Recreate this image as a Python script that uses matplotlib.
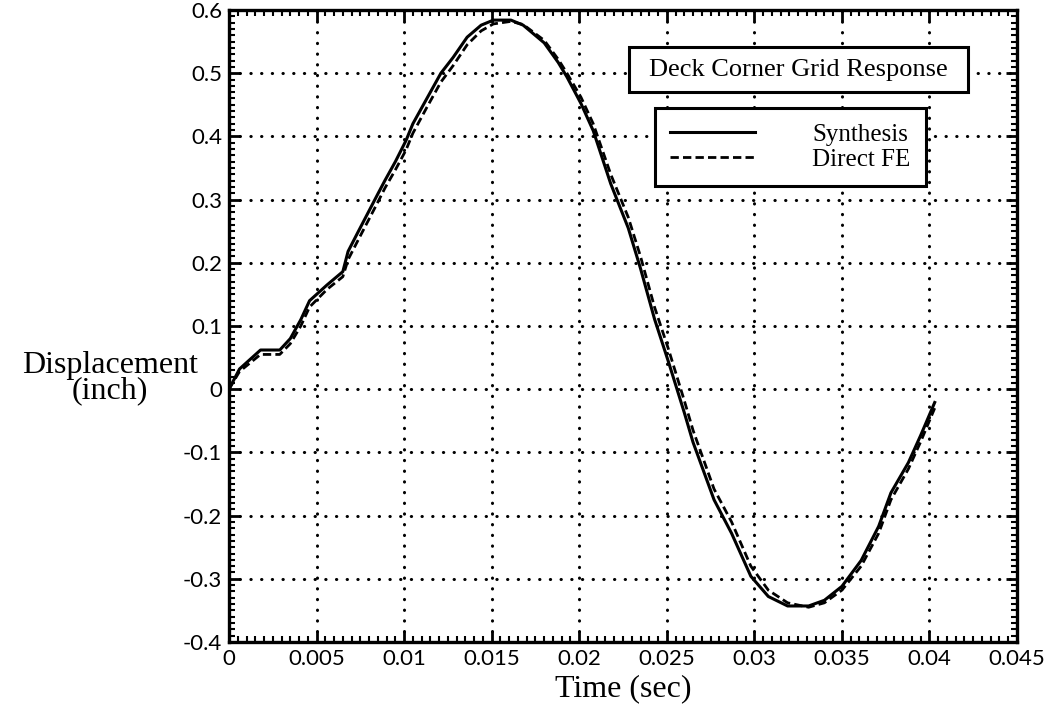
import matplotlib
matplotlib.use("Agg")
import matplotlib.pyplot as plt
from matplotlib.patches import Rectangle
from matplotlib.ticker import FixedLocator, FixedFormatter, MultipleLocator

# ---- data ----
time_s = [0.0, 0.0006, 0.0018, 0.0029, 0.0035, 0.0041, 0.0046, 0.0056, 0.0065, 0.0068,
          0.0073, 0.0079, 0.0085, 0.0089, 0.0095, 0.0101, 0.0105, 0.0113, 0.0121, 0.0128,
          0.0136, 0.0144, 0.0151, 0.0161, 0.0168, 0.0180, 0.0188, 0.0193, 0.0201, 0.0208,
          0.0218, 0.0228, 0.0235, 0.0243, 0.0251, 0.0260, 0.0265, 0.0277, 0.0287, 0.0298,
          0.0308, 0.0319, 0.0331, 0.0340, 0.0350, 0.0361, 0.0371, 0.0378, 0.0388, 0.0395,
          0.0403]
synthesis = [0.0, 0.032, 0.062, 0.062, 0.080, 0.110, 0.140, 0.165, 0.186, 0.218,
             0.245, 0.277, 0.309, 0.330, 0.360, 0.393, 0.420, 0.460, 0.500, 0.525,
             0.557, 0.576, 0.584, 0.584, 0.576, 0.548, 0.517, 0.494, 0.452, 0.409,
             0.325, 0.255, 0.191, 0.111, 0.043, -0.037, -0.084, -0.175, -0.228, -0.296,
             -0.328, -0.343, -0.343, -0.334, -0.312, -0.271, -0.217, -0.164, -0.116, -0.073,
             -0.021]
direct_fe = [0.0, 0.028, 0.055, 0.055, 0.072, 0.100, 0.130, 0.158, 0.178, 0.205,
             0.232, 0.264, 0.296, 0.318, 0.347, 0.378, 0.405, 0.446, 0.486, 0.512,
             0.545, 0.567, 0.578, 0.582, 0.577, 0.552, 0.522, 0.500, 0.462, 0.420,
             0.340, 0.272, 0.210, 0.130, 0.063, -0.018, -0.065, -0.158, -0.210, -0.280,
             -0.318, -0.338, -0.345, -0.338, -0.318, -0.280, -0.228, -0.175, -0.126, -0.083,
             -0.030]

x_ticks = [0, 0.005, 0.01, 0.015, 0.02, 0.025, 0.03, 0.035, 0.04, 0.045]
x_tick_labels = ["0", "0.005", "0.01", "0.015", "0.02", "0.025", "0.03", "0.035", "0.04", "0.045"]
y_ticks = [-0.4, -0.3, -0.2, -0.1, 0, 0.1, 0.2, 0.3, 0.4, 0.5, 0.6]
y_tick_labels = ["-0.4", "-0.3", "-0.2", "-0.1", "0", "0.1", "0.2", "0.3", "0.4", "0.5", "0.6"]
series_names = ["Synthesis", "Direct FE"]
title_text = "Deck Corner Grid Response"

SERIF = "Liberation Serif"
TICKFONT = "Lato"
W, H = 1047, 707

fig = plt.figure(figsize=(10.47, 7.07), dpi=100)
AX_L, AX_R, AX_T, AX_B = 229, 1017, 10, 642
ax = fig.add_axes([AX_L/W, 1 - AX_B/H, (AX_R-AX_L)/W, (AX_B-AX_T)/H])

def ax_frac(px, py):
    return (px - AX_L) / (AX_R - AX_L), (AX_B - py) / (AX_B - AX_T)

ax.plot(time_s, synthesis, color="black", lw=2.2, ls="-", label=series_names[0])
ax.plot(time_s, direct_fe, color="black", lw=2.0, ls=(0, (3, 1.5)), label=series_names[1])

ax.set_xlim(0, 0.045)
ax.set_ylim(-0.4, 0.6)

ax.xaxis.set_major_locator(FixedLocator(x_ticks))
ax.xaxis.set_major_formatter(FixedFormatter(x_tick_labels))
ax.yaxis.set_major_locator(FixedLocator(y_ticks))
ax.yaxis.set_major_formatter(FixedFormatter(y_tick_labels))
ax.xaxis.set_minor_locator(MultipleLocator(0.0005))
ax.yaxis.set_minor_locator(MultipleLocator(0.01))

ax.tick_params(which="both", direction="in", top=True, right=True, color="black")
ax.tick_params(which="major", length=8, width=2, labelsize=16, pad=5)
ax.tick_params(which="minor", length=4, width=1.5)
for lab in ax.get_xticklabels() + ax.get_yticklabels():
    lab.set_fontfamily(TICKFONT)

for sp in ax.spines.values():
    sp.set_linewidth(2.4)
    sp.set_color("black")

ax.grid(True, which="major", color="black", linestyle=(0, (0.1, 3.4)),
        linewidth=2.2, dash_capstyle="round")

# axis labels
fig.text((AX_L + AX_R) / 2 / W, 1 - 689 / H, "Time (sec)", fontfamily=SERIF,
         fontsize=23, ha="center", va="center")
fig.text(110 / W, 1 - 378 / H, "Displacement\n(inch)", fontfamily=SERIF,
         fontsize=23, ha="center", va="center", linespacing=0.85, multialignment="center")

# title box
bx0, by0 = ax_frac(629, 92)
bx1, by1 = ax_frac(968, 47)
ax.add_patch(Rectangle((bx0, by0), bx1 - bx0, by1 - by0, transform=ax.transAxes,
                       facecolor="white", edgecolor="black", linewidth=2.2, zorder=5))
tx, ty = ax_frac(798, 70)
ax.text(tx, ty, title_text, transform=ax.transAxes, fontfamily=SERIF,
        fontsize=19, ha="center", va="center", zorder=6)

# legend
lx, ly = ax_frac(655, 108)
leg = ax.legend(loc="upper left", bbox_to_anchor=(lx, ly), borderaxespad=0,
                prop={"family": SERIF, "size": 18},
                handlelength=3.4, handletextpad=2.3, borderpad=0.6, labelspacing=0.12,
                fancybox=False, framealpha=1, edgecolor="black")
leg.get_frame().set_linewidth(2.2)
leg.set_zorder(6)

fig.savefig("out.png", dpi=100)
